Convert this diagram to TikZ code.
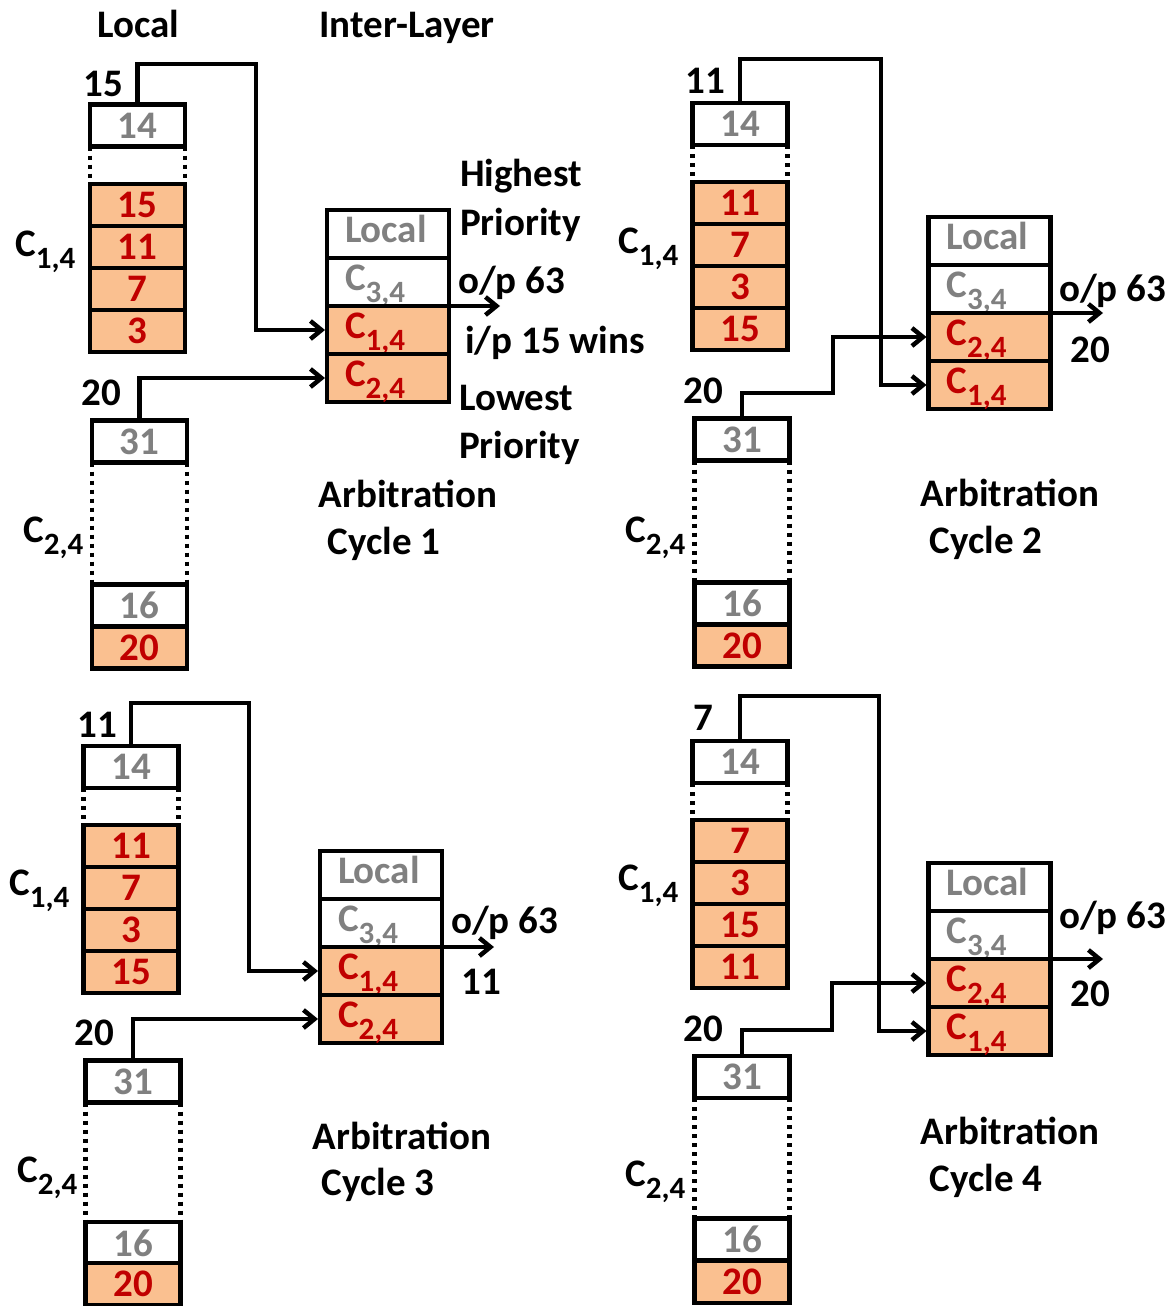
\documentclass[tikz,border=0pt]{standalone}
\usepackage{fontspec}
\setmainfont{Carlito}
\usetikzlibrary{arrows.meta}
\definecolor{peach}{HTML}{FAC090}
\definecolor{numred}{HTML}{C00000}
\definecolor{numgray}{HTML}{808080}
\newcommand{\Cs}[1]{C\raisebox{-12pt}[0pt][0pt]{\fontsize{31}{31}\selectfont #1}}
\tikzset{
  txt/.style={font=\fontsize{39}{42}\selectfont\bfseries, inner sep=0pt},
  cellbase/.style={txt, draw, line width=4.5pt, outer sep=0pt, minimum width=95pt, minimum height=42pt},
  wnum/.style={cellbase, fill=white, text=numgray},
  onum/.style={cellbase, fill=peach, text=numred},
  arb/.style={txt, draw, line width=4.5pt, outer sep=0pt, minimum height=48pt, text width=86pt, align=left, inner xsep=18pt, inner ysep=0pt, text height=17pt, text depth=0pt},
  arbw/.style={arb, fill=white, text=numgray},
  arbo/.style={arb, fill=peach, text=numred},
  clab/.style={txt, anchor=base west},
  conn/.style={line width=4.5pt, shorten >=2pt, -{Straight Barb[length=11pt,width=18pt]}},
  dotline/.style={line width=4.5pt, dash pattern=on 4pt off 5pt},
}
\begin{document}
\begin{tikzpicture}[x=1pt,y=-1pt]
\useasboundingbox (0,0) rectangle (1171,1306);

% ---------------- Panel 1 ----------------
\node[txt] (h1) at (138,24) {Local};
\node[txt] (h2) at (407,28) {Inter-Layer};
\node[wnum] (p1t) at (137.5,125.5) {14};
\node[onum] (p1s1) at (137.5,205) {15};
\node[onum] (p1s2) at (137.5,247) {11};
\node[onum] (p1s3) at (137.5,289) {7};
\node[onum] (p1s4) at (137.5,331) {3};
\node[wnum] (p1u) at (139.5,441.5) {31};
\node[wnum] (p1v) at (139.5,605.5) {16};
\node[onum] (p1w) at (139.5,647.5) {20};
\draw[dotline] (p1t.south west) -- (p1s1.north west);
\draw[dotline] (p1t.south east) -- (p1s1.north east);
\draw[dotline] (p1u.south west) -- (p1v.north west);
\draw[dotline] (p1u.south east) -- (p1v.north east);
\node[txt] (p1l1) at (103,84) {15};
\node[txt] (p1l2) at (101,393) {20};
\node[clab] (p1c1) at (15,256) {\Cs{1,4}};
\node[clab] (p1c2) at (23,542) {\Cs{2,4}};
\node[arbw] (p1m1) at (388,234) {Local};
\node[arbw] (p1m2) at (388,282) {\Cs{3,4}};
\node[arbo] (p1m3) at (388,330) {\Cs{1,4}};
\node[arbo] (p1m4) at (388,378) {\Cs{2,4}};
\coordinate (p1k) at (256,64);
\coordinate (p1o) at (502,306);
\draw[conn] (p1t.north) |- (p1k) |- (p1m3.west);
\draw[conn] (p1u.north) |- (p1m4.west);
\draw[conn] (p1m2.south east) -- (p1o);
\node[txt, anchor=west] (p1hi) at (460,176) {Highest};
\node[txt, anchor=west] (p1hp) at (460,225) {Priority};
\node[txt, anchor=west] (p1op) at (458,283) {o/p 63};
\node[txt, anchor=west] (p1ip) at (465,343) {i/p 15 wins};
\node[txt, anchor=west] (p1lo) at (459,398) {Lowest};
\node[txt, anchor=west] (p1lp) at (459,448) {Priority};
\node[txt] (p1a) at (408,494) {Arbitration};
\node[txt] (p1b) at (384,544) {Cycle 1};

% ---------------- Panel 2 ----------------
\node[wnum] (p2t) at (740,124) {14};
\node[onum] (p2s1) at (740,203) {11};
\node[onum] (p2s2) at (740,245) {7};
\node[onum] (p2s3) at (740,287) {3};
\node[onum] (p2s4) at (740,329) {15};
\node[wnum] (p2u) at (742,439.5) {31};
\node[wnum] (p2v) at (742,603.5) {16};
\node[onum] (p2w) at (742,645.5) {20};
\draw[dotline] (p2t.south west) -- (p2s1.north west);
\draw[dotline] (p2t.south east) -- (p2s1.north east);
\draw[dotline] (p2u.south west) -- (p2v.north west);
\draw[dotline] (p2u.south east) -- (p2v.north east);
\node[txt] (p2l1) at (705,81) {11};
\node[txt] (p2l2) at (703,391) {20};
\node[clab] (p2c1) at (618,253) {\Cs{1,4}};
\node[clab] (p2c2) at (625,542) {\Cs{2,4}};
\node[arbw] (p2m1) at (989.5,241) {Local};
\node[arbw] (p2m2) at (989.5,289) {\Cs{3,4}};
\node[arbo] (p2m3) at (989.5,337) {\Cs{2,4}};
\node[arbo] (p2m4) at (989.5,385) {\Cs{1,4}};
\coordinate (p2k) at (881,59);
\coordinate (p2j) at (833,393);
\coordinate (p2o) at (1105,313);
\draw[conn] (p2t.north) |- (p2k) |- (p2m4.west);
\draw[conn] (p2u.north) |- (p2j) |- (p2m3.west);
\draw[conn] (p2m2.south east) -- (p2o);
\node[txt, anchor=west] (p2op) at (1059,291) {o/p 63};
\node[txt] (p2r) at (1090,350) {20};
\node[txt] (p2a) at (1010,493) {Arbitration};
\node[txt] (p2b) at (986,543) {Cycle 2};

% ---------------- Panel 3 ----------------
\node[wnum] (p3t) at (131,767) {14};
\node[onum] (p3s1) at (131,846) {11};
\node[onum] (p3s2) at (131,888) {7};
\node[onum] (p3s3) at (131,930) {3};
\node[onum] (p3s4) at (131,972) {15};
\node[wnum] (p3u) at (133,1081.5) {31};
\node[wnum] (p3v) at (133,1243) {16};
\node[onum] (p3w) at (133,1284) {20};
\draw[dotline] (p3t.south west) -- (p3s1.north west);
\draw[dotline] (p3t.south east) -- (p3s1.north east);
\draw[dotline] (p3u.south west) -- (p3v.north west);
\draw[dotline] (p3u.south east) -- (p3v.north east);
\node[txt] (p3l1) at (97,725) {11};
\node[txt] (p3l2) at (94,1033) {20};
\node[clab] (p3c1) at (9,895) {\Cs{1,4}};
\node[clab] (p3c2) at (17,1182) {\Cs{2,4}};
\node[arbw] (p3m1) at (381,875) {Local};
\node[arbw] (p3m2) at (381,923) {\Cs{3,4}};
\node[arbo] (p3m3) at (381,971) {\Cs{1,4}};
\node[arbo] (p3m4) at (381,1019) {\Cs{2,4}};
\coordinate (p3k) at (249,703);
\coordinate (p3o) at (496,947);
\draw[conn] (p3t.north) |- (p3k) |- (p3m3.west);
\draw[conn] (p3u.north) |- (p3m4.west);
\draw[conn] (p3m2.south east) -- (p3o);
\node[txt, anchor=west] (p3op) at (451,923) {o/p 63};
\node[txt] (p3r) at (481,982) {11};
\node[txt] (p3a) at (402,1136) {Arbitration};
\node[txt] (p3b) at (378,1185) {Cycle 3};

% ---------------- Panel 4 ----------------
\node[wnum] (p4t) at (740,762) {14};
\node[onum] (p4s1) at (740,841) {7};
\node[onum] (p4s2) at (740,883) {3};
\node[onum] (p4s3) at (740,925) {15};
\node[onum] (p4s4) at (740,967) {11};
\node[wnum] (p4u) at (742,1077) {31};
\node[wnum] (p4v) at (742,1239.5) {16};
\node[onum] (p4w) at (742,1282) {20};
\draw[dotline] (p4t.south west) -- (p4s1.north west);
\draw[dotline] (p4t.south east) -- (p4s1.north east);
\draw[dotline] (p4u.south west) -- (p4v.north west);
\draw[dotline] (p4u.south east) -- (p4v.north east);
\node[txt] (p4l1) at (703,718) {7};
\node[txt] (p4l2) at (703,1029) {20};
\node[clab] (p4c1) at (618,890) {\Cs{1,4}};
\node[clab] (p4c2) at (625,1186) {\Cs{2,4}};
\node[arbw] (p4m1) at (989.5,887) {Local};
\node[arbw] (p4m2) at (989.5,935) {\Cs{3,4}};
\node[arbo] (p4m3) at (989.5,983) {\Cs{2,4}};
\node[arbo] (p4m4) at (989.5,1031) {\Cs{1,4}};
\coordinate (p4k) at (879,696);
\coordinate (p4j) at (832,1030);
\coordinate (p4o) at (1105,959);
\draw[conn] (p4t.north) |- (p4k) |- (p4m4.west);
\draw[conn] (p4u.north) |- (p4j) |- (p4m3.west);
\draw[conn] (p4m2.south east) -- (p4o);
\node[txt, anchor=west] (p4op) at (1059,918) {o/p 63};
\node[txt] (p4r) at (1090,994) {20};
\node[txt] (p4a) at (1010,1131) {Arbitration};
\node[txt] (p4b) at (986,1181) {Cycle 4};
\end{tikzpicture}
\end{document}
